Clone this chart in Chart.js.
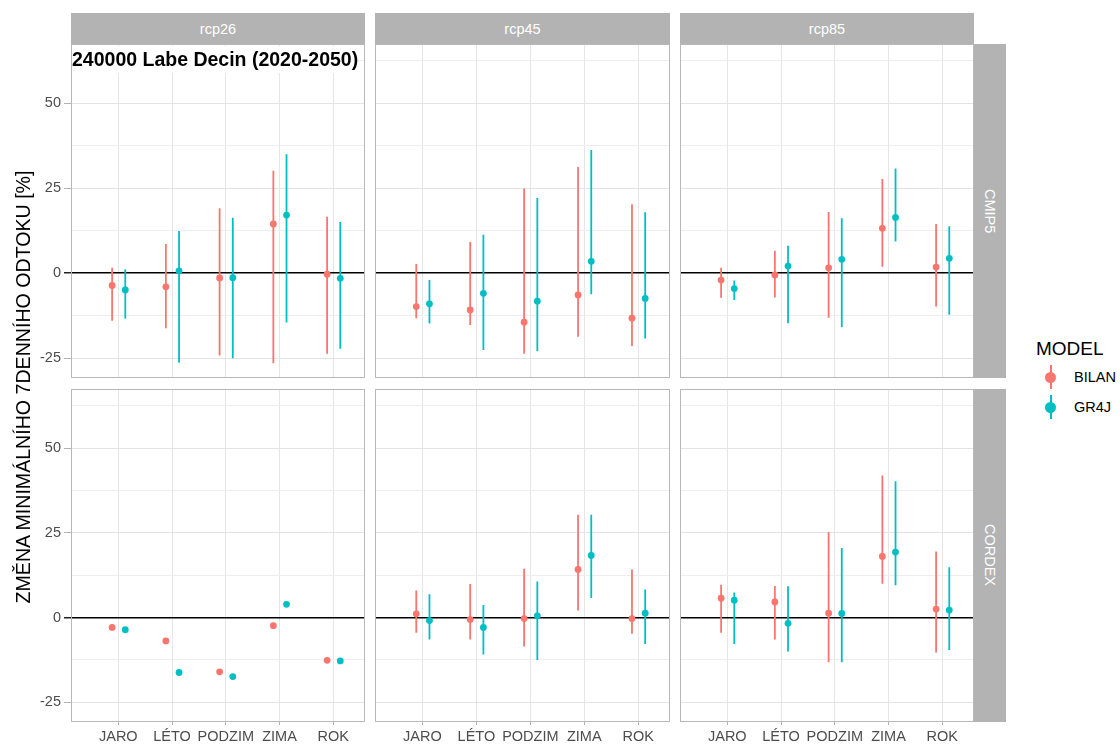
<!DOCTYPE html>
<html>
<head>
<meta charset="utf-8">
<script src="https://cdn.jsdelivr.net/npm/chart.js@4.4.0/dist/chart.umd.min.js"></script>
<style>
body { margin: 0; background: #fff; font-family: "Liberation Sans", Arial, sans-serif; }
#wrap { position: relative; width: 1120px; height: 747px; overflow: hidden; background: #fff; }
#wrap canvas { position: absolute; }
.strip { position: absolute; background: #B3B3B3; color: #fff; font-size: 14.5px; display: flex; align-items: center; justify-content: center; }
.strip.side { writing-mode: vertical-rl; }
.frame { position: absolute; border: 1px solid #B8B8B8; box-sizing: border-box; pointer-events: none; z-index: 3; }
#title { position: absolute; left: 72px; top: 46px; width: 286px; height: 27px; background: #fff; z-index: 2;
  font-weight: bold; font-size: 19.5px; line-height: 27px; color: #000; white-space: nowrap; }
#ytitle { position: absolute; left: -327px; top: 376px; width: 700px; height: 22px; line-height: 22px; text-align: center;
  font-size: 19.6px; color: #000; transform: rotate(-90deg); white-space: nowrap; }
#legend { position: absolute; left: 1036px; top: 336px; }
#legend .lt { font-size: 19px; color: #000; line-height: 26px; }
.key { position: relative; height: 30px; }
.key .bar { position: absolute; left: 13.8px; top: 3px; width: 1.8px; height: 24px; }
.key .dot { position: absolute; left: 9px; top: 9.5px; width: 11px; height: 11px; border-radius: 50%; }
.key .lab { position: absolute; left: 38px; top: 0; line-height: 30px; font-size: 14.5px; color: #000; }
</style>
</head>
<body>
<div id="wrap"></div>
<script>
// categories / facets
const SEASONS = ['JARO', 'LÉTO', 'PODZIM', 'ZIMA', 'ROK'];
const SCENARIOS = ['rcp26', 'rcp45', 'rcp85'];
const SOURCES = ['CMIP5', 'CORDEX'];
const MODELS = ['BILAN', 'GR4J'];
const Y_TICKS = [-25, -12.5, 0, 12.5, 25, 37.5, 50, 62.5];
const Y_LABELS = [-25, 0, 25, 50];

// [low, point, high] per season
const cmip5_rcp26_bilan = [[-14.0, -3.6, 1.6], [-16.2, -4.0, 8.6], [-24.2, -1.4, 19.1], [-26.5, 14.5, 30.1], [-23.7, -0.3, 16.6]];
const cmip5_rcp26_gr4j = [[-13.4, -4.9, 1.2], [-26.3, 0.7, 12.4], [-25.0, -1.3, 16.3], [-14.5, 17.1, 35.0], [-22.2, -1.5, 15.1]];
const cmip5_rcp45_bilan = [[-13.2, -9.8, 2.7], [-15.2, -10.8, 9.2], [-23.7, -14.4, 24.9], [-18.7, -6.4, 31.2], [-21.4, -13.2, 20.3]];
const cmip5_rcp45_gr4j = [[-14.8, -9.0, -2.0], [-22.6, -5.9, 11.3], [-22.9, -8.2, 22.1], [-6.2, 3.5, 36.2], [-19.2, -7.4, 17.9]];
const cmip5_rcp85_bilan = [[-7.2, -2.0, 1.6], [-7.1, -0.5, 6.6], [-13.1, 1.6, 18.0], [1.9, 13.2, 27.7], [-9.8, 1.8, 14.5]];
const cmip5_rcp85_gr4j = [[-7.9, -4.5, -2.1], [-14.7, 2.1, 8.1], [-15.9, 4.1, 16.2], [9.3, 16.4, 30.8], [-12.2, 4.4, 13.8]];
const cordex_rcp26_bilan = [[null, -2.9, null], [null, -6.9, null], [null, -16.0, null], [null, -2.4, null], [null, -12.6, null]];
const cordex_rcp26_gr4j = [[null, -3.6, null], [null, -16.2, null], [null, -17.4, null], [null, 3.9, null], [null, -12.8, null]];
const cordex_rcp45_bilan = [[-4.5, 1.1, 8.0], [-6.5, -0.6, 9.9], [-8.5, -0.3, 14.4], [2.1, 14.2, 30.3], [-4.8, -0.3, 14.2]];
const cordex_rcp45_gr4j = [[-6.5, -0.9, 6.9], [-10.9, -2.9, 3.7], [-12.5, 0.5, 10.6], [5.8, 18.3, 30.3], [-7.8, 1.3, 8.3]];
const cordex_rcp85_bilan = [[-4.5, 5.7, 9.7], [-6.5, 4.6, 9.3], [-13.2, 1.3, 25.2], [10.0, 18.0, 41.9], [-10.3, 2.5, 19.5]];
const cordex_rcp85_gr4j = [[-7.8, 5.1, 7.4], [-10.0, -1.7, 9.2], [-13.2, 1.2, 20.5], [9.5, 19.3, 40.2], [-9.6, 2.2, 14.8]];

const PANELS = {
    'CMIP5|rcp26': [cmip5_rcp26_bilan, cmip5_rcp26_gr4j],
    'CMIP5|rcp45': [cmip5_rcp45_bilan, cmip5_rcp45_gr4j],
    'CMIP5|rcp85': [cmip5_rcp85_bilan, cmip5_rcp85_gr4j],
    'CORDEX|rcp26': [cordex_rcp26_bilan, cordex_rcp26_gr4j],
    'CORDEX|rcp45': [cordex_rcp45_bilan, cordex_rcp45_gr4j],
    'CORDEX|rcp85': [cordex_rcp85_bilan, cordex_rcp85_gr4j],
};

const COLORS = ['#F8766D', '#00BFC4'];
const DODGE = [-0.115, 0.13];
const FONT = '"Liberation Sans", Arial, sans-serif';

// layout
const PANEL_X = [71, 375, 680];
const PANEL_W = [294, 295, 294];
const PANEL_Y = [44, 389];
const PANEL_H = [334, 333];
const X_MIN = 0.12, X_MAX = 5.59;
const Y_MIN = -30.8, Y_MAX = 67.4;

const wrap = document.getElementById('wrap');

function addDiv(cls, x, y, w, h, text) {
    let d = document.createElement('div');
    d.className = cls;
    d.style.left = x + 'px';
    d.style.top = y + 'px';
    d.style.width = w + 'px';
    d.style.height = h + 'px';
    if (text) d.textContent = text;
    wrap.appendChild(d);
    return d;
}

function makePanel(col, row) {
    let leftPad = col === 0 ? 71 : 0;
    let bottomPad = row === 1 ? 25 : 0;
    let cv = document.createElement('canvas');
    cv.width = PANEL_W[col] + leftPad;
    cv.height = PANEL_H[row] + bottomPad;
    cv.style.left = (PANEL_X[col] - leftPad) + 'px';
    cv.style.top = PANEL_Y[row] + 'px';
    wrap.appendChild(cv);

    let series = PANELS[SOURCES[row] + '|' + SCENARIOS[col]];
    let datasets = [];
    series.forEach((rows, m) => {
        let bars = [];
        let pts = [];
        rows.forEach((r, i) => {
            let x = i + 1 + DODGE[m];
            if (r[0] !== null) {
                bars.push({ x: x, y: r[0] }, { x: x, y: r[2] }, { x: x, y: null });
            }
            pts.push({ x: x, y: r[1] });
        });
        datasets.push({
            label: MODELS[m] + ' range',
            data: bars,
            borderColor: COLORS[m],
            borderWidth: 1.8,
            pointRadius: 0,
            spanGaps: false,
            showLine: true,
            order: 2
        });
        datasets.push({
            label: MODELS[m],
            data: pts,
            showLine: false,
            pointRadius: 3.4,
            pointBorderWidth: 0,
            pointBackgroundColor: COLORS[m],
            borderColor: COLORS[m],
            order: 1
        });
    });

    new Chart(cv, {
        type: 'line',
        data: { datasets: datasets },
        options: {
            responsive: false,
            animation: false,
            devicePixelRatio: 1,
            events: [],
            layout: { padding: 0, autoPadding: false },
            plugins: { legend: { display: false }, tooltip: { enabled: false } },
            scales: {
                x: {
                    type: 'linear',
                    min: X_MIN,
                    max: X_MAX,
                    afterBuildTicks: s => { s.ticks = SEASONS.map((_, i) => ({ value: i + 1 })); },
                    afterFit: s => { s.height = bottomPad; s.paddingLeft = 0; s.paddingRight = 0; },
                    ticks: {
                        display: row === 1,
                        autoSkip: false,
                        maxRotation: 0,
                        minRotation: 0,
                        padding: 3,
                        color: '#4D4D4D',
                        font: { size: 14.5, family: FONT },
                        callback: v => SEASONS[v - 1]
                    },
                    grid: { color: '#E6E6E6', lineWidth: 1, drawTicks: row === 1, tickLength: 3, tickColor: '#B3B3B3' },
                    border: { display: false }
                },
                y: {
                    type: 'linear',
                    min: Y_MIN,
                    max: Y_MAX,
                    afterBuildTicks: s => { s.ticks = Y_TICKS.map(v => ({ value: v })); },
                    afterFit: s => { s.width = leftPad; s.paddingTop = 0; s.paddingBottom = 0; },
                    ticks: {
                        display: col === 0,
                        autoSkip: false,
                        padding: 3,
                        color: '#4D4D4D',
                        font: { size: 14.5, family: FONT },
                        callback: v => Y_LABELS.includes(v) ? String(v) : ''
                    },
                    grid: {
                        color: c => c.tick && c.tick.value === 0 ? '#000' : (Y_LABELS.includes(c.tick && c.tick.value) ? '#E4E4E4' : '#EEEEEE'),
                        lineWidth: c => c.tick && c.tick.value === 0 ? 1.5 : 1,
                        drawTicks: col === 0,
                        tickLength: 7,
                        tickColor: c => !Y_LABELS.includes(c.tick && c.tick.value) ? 'rgba(0,0,0,0)' : (c.tick.value === 0 ? '#222' : '#B3B3B3')
                    },
                    border: { display: false }
                }
            }
        }
    });

    addDiv('frame', PANEL_X[col], PANEL_Y[row], PANEL_W[col], PANEL_H[row]);
}

for (let r = 0; r < SOURCES.length; r++) {
    for (let c = 0; c < SCENARIOS.length; c++) {
        makePanel(c, r);
    }
}

// facet strips
SCENARIOS.forEach((s, c) => addDiv('strip', PANEL_X[c], 13, PANEL_W[c], 31, s));
SOURCES.forEach((s, r) => addDiv('strip side', 974, PANEL_Y[r], 32, PANEL_H[r], s));

// titles
let t = document.createElement('div');
t.id = 'title';
t.textContent = '240000 Labe Decin (2020-2050)';
wrap.appendChild(t);

let yt = document.createElement('div');
yt.id = 'ytitle';
yt.textContent = 'ZMĚNA MINIMÁLNÍHO 7DENNÍHO ODTOKU [%]';
wrap.appendChild(yt);

// legend
let lg = document.createElement('div');
lg.id = 'legend';
lg.innerHTML = '<div class="lt">MODEL</div>';
MODELS.forEach((m, i) => {
    lg.innerHTML += `<div class="key"><div class="bar" style="background:${COLORS[i]}"></div>` +
        `<div class="dot" style="background:${COLORS[i]}"></div><div class="lab">${m}</div></div>`;
});
wrap.appendChild(lg);
</script>
</body>
</html>
